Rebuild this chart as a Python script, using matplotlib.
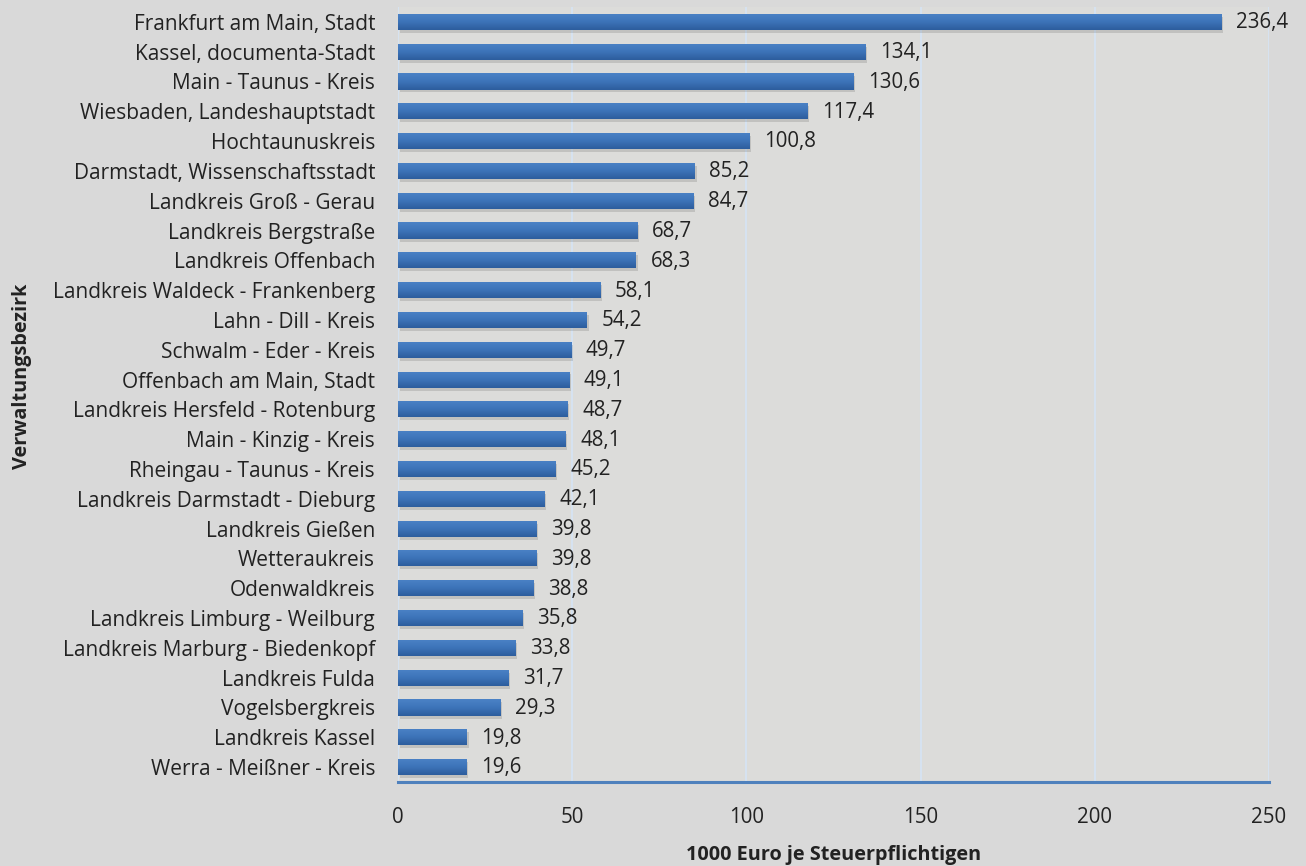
import matplotlib
matplotlib.use("Agg")
import matplotlib.pyplot as plt
import numpy as np
from matplotlib.colors import LinearSegmentedColormap

categories = [
    "Frankfurt am Main, Stadt", "Kassel, documenta-Stadt", "Main - Taunus - Kreis",
    "Wiesbaden, Landeshauptstadt", "Hochtaunuskreis", "Darmstadt, Wissenschaftsstadt",
    "Landkreis Groß - Gerau", "Landkreis Bergstraße", "Landkreis Offenbach",
    "Landkreis Waldeck - Frankenberg", "Lahn - Dill - Kreis", "Schwalm - Eder - Kreis",
    "Offenbach am Main, Stadt", "Landkreis Hersfeld - Rotenburg", "Main - Kinzig - Kreis",
    "Rheingau - Taunus - Kreis", "Landkreis Darmstadt - Dieburg", "Landkreis Gießen",
    "Wetteraukreis", "Odenwaldkreis", "Landkreis Limburg - Weilburg",
    "Landkreis Marburg - Biedenkopf", "Landkreis Fulda", "Vogelsbergkreis",
    "Landkreis Kassel", "Werra - Meißner - Kreis",
]
values = [236.4, 134.1, 130.6, 117.4, 100.8, 85.2, 84.7, 68.7, 68.3, 58.1, 54.2, 49.7,
          49.1, 48.7, 48.1, 45.2, 42.1, 39.8, 39.8, 38.8, 35.8, 33.8, 31.7, 29.3, 19.8, 19.6]
xticks = [0, 50, 100, 150, 200, 250]

plt.rcParams['font.family'] = ['Open Sans', 'DejaVu Sans']
bg = '#d9d9d9'
fig = plt.figure(figsize=(13.06, 8.66), dpi=100, facecolor=bg)
ax = fig.add_axes([0.3047, 0.097, 0.9717 - 0.3047, 0.992 - 0.097])
ax.set_facecolor('#dcdcda')

n = len(values)
y = np.arange(n)
h = 0.54

# shadows
ax.barh(y + 0.1, values, height=h, left=0.5, color='#000000', alpha=0.12, zorder=2)
bars = ax.barh(y, values, height=h, color='#3f74b8', zorder=3)

cmap = LinearSegmentedColormap.from_list('g', ['#4b82c6', '#3d74b9', '#2d5d9d'])
grad = np.linspace(0, 1, 64).reshape(-1, 1)
for b, v, yi in zip(bars, values, y):
    im = ax.imshow(grad, cmap=cmap, aspect='auto',
                   extent=(0, v, yi + h / 2, yi - h / 2), zorder=4, origin='upper')
    im.set_clip_path(b)
    ax.text(v + 4.2, yi + 0.03, f"{v:.1f}".replace('.', ','), va='center', ha='left',
            fontsize=14.8, color='#222222', zorder=5)

ax.set_ylim(n - 0.5, -0.5)
ax.set_xlim(0, 250)
ax.set_yticks(y)
ax.set_yticklabels(categories, fontsize=15, color='#222222')
ax.set_xticks(xticks)
ax.set_xticklabels([str(t) for t in xticks], fontsize=14.8, color='#222222')
ax.tick_params(axis='both', length=0)
ax.tick_params(axis='y', pad=16.5)
ax.tick_params(axis='x', pad=18)
ax.grid(axis='x', color='#d6e2f0', linewidth=1.5, zorder=1)
ax.set_axisbelow(True)
for s in ['top', 'right', 'left']:
    ax.spines[s].set_visible(False)
ax.spines['bottom'].set_color('#4f81bd')
ax.spines['bottom'].set_linewidth(2.2)
ax.spines['bottom'].set_zorder(6)

ax.set_xlabel('1000 Euro je Steuerpflichtigen', fontsize=14.3, fontweight='bold',
              color='#222222', labelpad=12)
fig.text(0.0165, 0.565, 'Verwaltungsbezirk', rotation=90, fontsize=14.3,
         fontweight='bold', color='#222222', va='center', ha='center')

fig.savefig('out.png', dpi=100, facecolor=bg)
